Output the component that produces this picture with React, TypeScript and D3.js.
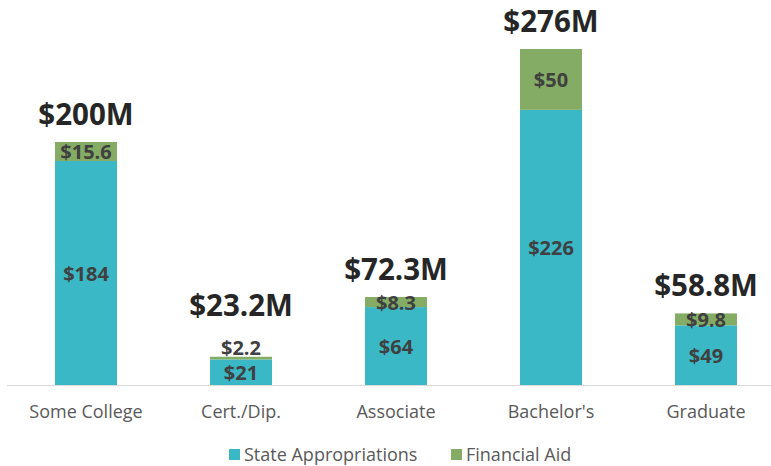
import React from "react";
import * as d3 from "d3";

const categories = ["Some College", "Cert./Dip.", "Associate", "Bachelor's", "Graduate"];
const stateAppropriations = [184, 21, 64, 226, 49];
const financialAid = [15.6, 2.2, 8.3, 50, 9.8];
const stateLabels = ["$184", "$21", "$64", "$226", "$49"];
const aidLabels = ["$15.6", "$2.2", "$8.3", "$50", "$9.8"];
const totalLabels = ["$200M", "$23.2M", "$72.3M", "$276M", "$58.8M"];
const seriesNames = ["State Appropriations", "Financial Aid"];

const W = 771;
const H = 466;
const TEAL = "#3BB8C6";
const GREEN = "#84AC64";
const FONT = "'Open Sans', sans-serif";

export default function App() {
  const x = d3.scaleBand<string>().domain(categories).range([8.5, 783.5]).paddingInner(0.6).paddingOuter(0.3);
  const y = d3.scaleLinear().domain([0, 276]).range([385, 49]);

  const rows = categories.map((c, i) => ({
    cat: c,
    state: stateAppropriations[i],
    aid: financialAid[i],
  }));
  const stack = d3.stack<any>().keys(["state", "aid"])(rows);
  const colors = [TEAL, GREEN];
  const labels = [stateLabels, aidLabels];

  return (
    <svg width={W} height={H} style={{ position: "absolute", left: 0, top: 0, background: "#fff" }}>
      {stack.map((s, si) =>
        s.map((d, i) => (
          <rect
            key={`${si}-${i}`}
            x={x(categories[i])}
            width={x.bandwidth()}
            y={y(d[1])}
            height={y(d[0]) - y(d[1])}
            fill={colors[si]}
          />
        ))
      )}
      <line x1={7} x2={W} y1={385.5} y2={385.5} stroke="#d9d9d9" strokeWidth={1} />
      {stack.map((s, si) =>
        s.map((d, i) => {
          const h = y(d[0]) - y(d[1]);
          const cx = x(categories[i])! + x.bandwidth() / 2;
          const small = h < 8;
          const yy = small ? y(d[1]) - 2 : (y(d[0]) + y(d[1])) / 2 + 7.5;
          return (
            <text
              key={`l${si}-${i}`}
              x={cx}
              y={yy}
              textAnchor="middle"
              fontFamily={FONT}
              fontWeight={700}
              fontSize={20}
              fill="#404040"
            >
              {labels[si][i]}
            </text>
          );
        })
      )}
      {categories.map((c, i) => {
        const top = y(stateAppropriations[i] + financialAid[i]);
        const h = y(stateAppropriations[i]) - top;
        const base = h < 8 ? top - 41 : top - 17;
        return (
          <text
            key={`t${i}`}
            x={x(c)! + x.bandwidth() / 2}
            y={base}
            textAnchor="middle"
            fontFamily={FONT}
            fontWeight={700}
            fontSize={29.5}
            fill="#262626"
          >
            {totalLabels[i]}
          </text>
        );
      })}
      {categories.map((c, i) => (
        <text
          key={`a${i}`}
          x={x(c)! + x.bandwidth() / 2}
          y={418}
          textAnchor="middle"
          fontFamily={FONT}
          fontSize={18}
          fill="#595959"
        >
          {c}
        </text>
      ))}
      {seriesNames.map((n, i) => {
        const lx = [229, 451][i];
        return (
          <g key={`lg${i}`}>
            <rect x={lx} y={449} width={11} height={11} fill={colors[i]} />
            <text x={lx + 15} y={461} fontFamily={FONT} fontSize={18} fill="#595959">
              {n}
            </text>
          </g>
        );
      })}
    </svg>
  );
}
